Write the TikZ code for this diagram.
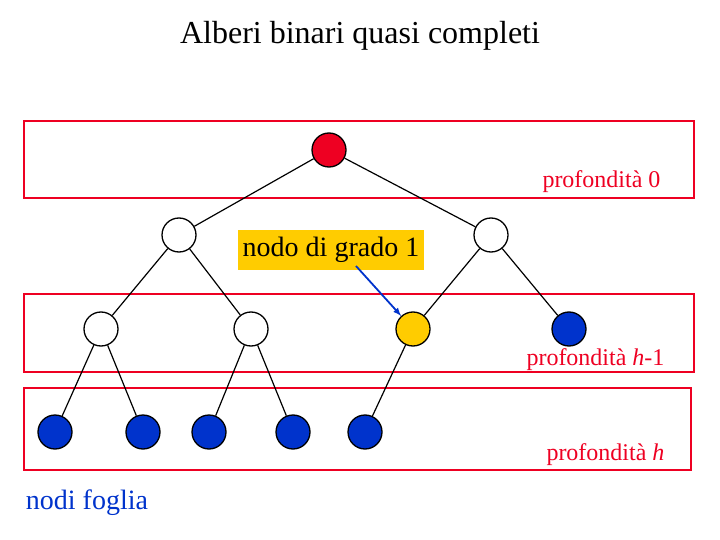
\documentclass[tikz,border=0pt]{standalone}
\usepackage{fontspec}
\setmainfont{Liberation Serif}
\usetikzlibrary{positioning}
\definecolor{rosso}{RGB}{238,0,34}
\definecolor{giallo}{RGB}{255,204,0}
\definecolor{blu}{RGB}{0,51,204}
\tikzset{nodo/.style={circle, draw=black, line width=1.3pt, minimum size=34pt, inner sep=0pt},
	fascia/.style={draw=rosso, line width=1.8pt},
	lato/.style={draw=black, line width=1.2pt},
	etichetta/.style={font=\fontsize{24}{26}\selectfont, text=rosso}}
\begin{document}
\begin{tikzpicture}[x=1pt,y=-1pt]
	\useasboundingbox (0,0) rectangle (720,540);

	\node[font=\fontsize{32}{36}\selectfont] (titolo) at (360,36) {Alberi binari quasi completi};

	\draw[fascia] (24,121) rectangle (694,198);
	\draw[fascia] (24,294) rectangle (694,372);
	\draw[fascia] (24,388) rectangle (691,470);

	\node[nodo, fill=rosso] (r) at (329,150) {};
	\node[nodo, fill=white] (a) at (179,235) {};
	\node[nodo, fill=white] (b) at (491,235) {};
	\node[nodo, fill=white] (c) at (101,329) {};
	\node[nodo, fill=white] (d) at (251,329) {};
	\node[nodo, fill=giallo] (e) at (413,329) {};
	\node[nodo, fill=blu] (f) at (569,329) {};
	\node[nodo, fill=blu] (g) at (55,432) {};
	\node[nodo, fill=blu] (h) at (143,432) {};
	\node[nodo, fill=blu] (i) at (209,432) {};
	\node[nodo, fill=blu] (j) at (293,432) {};
	\node[nodo, fill=blu] (k) at (365,432) {};

	\draw[lato] (r) -- (a);
	\draw[lato] (r) -- (b);
	\draw[lato] (a) -- (c);
	\draw[lato] (a) -- (d);
	\draw[lato] (b) -- (e);
	\draw[lato] (b) -- (f);
	\draw[lato] (c) -- (g);
	\draw[lato] (c) -- (h);
	\draw[lato] (d) -- (i);
	\draw[lato] (d) -- (j);
	\draw[lato] (e) -- (k);

	\node[fill=giallo, minimum width=186pt, minimum height=40pt, inner sep=0pt,
		font=\fontsize{28}{30}\selectfont] (grado) at (331,250) {nodo di grado 1};
	\draw[blu, line width=1.8pt, -latex] (356,266) -- (e);

	\node[etichetta, anchor=east] (p0) at (664,182) {profondità 0};
	\node[etichetta, anchor=east] (p1) at (668,360) {profondità \textit{h}-1};
	\node[etichetta, anchor=east] (p2) at (668,455) {profondità \textit{h}};
	\node[font=\fontsize{28}{30}\selectfont, text=blu] (foglie) at (87,503) {nodi foglia};
\end{tikzpicture}
\end{document}
